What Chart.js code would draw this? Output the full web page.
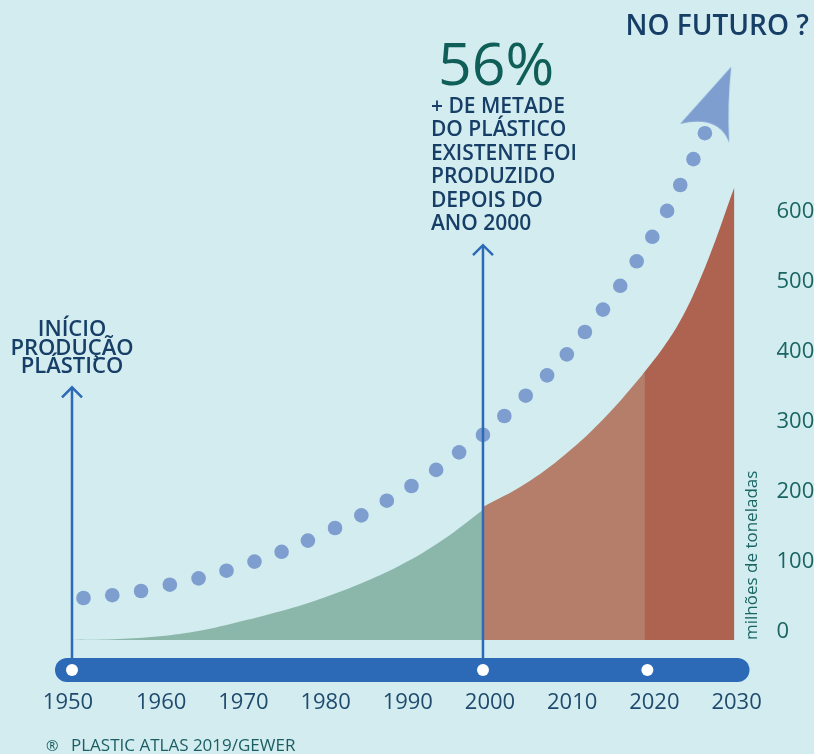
<!DOCTYPE html>
<html>
<head>
<meta charset="utf-8">
<script src="https://cdn.jsdelivr.net/npm/chart.js@4.4.1/dist/chart.umd.min.js"></script>
<style>
  html, body { margin: 0; padding: 0; background: #d2ecef; }
  #wrap { width: 814px; height: 754px; position: relative; }
</style>
</head>
<body>
<div id="wrap"><canvas id="myChart"></canvas></div>
<script>
// produção anual (milhões de toneladas)
const greenYears = [1950, 1955, 1960, 1965, 1970, 1975, 1980, 1985, 1990, 1995, 2000]
const greenValues = [0, 1, 4.5, 12, 25, 40, 58, 80, 107, 142, 186]
const brownYears = [2000, 2005, 2010, 2015, 2019.7]
const brownValues = [190, 222, 265, 320, 383]
// começa um pouco antes, por baixo da faixa marrom, para não deixar fresta
const darkYears = [2019.4, 2022, 2024, 2026, 2028, 2030, 2030.6]
const darkValues = [379, 419, 456, 504, 562, 628, 647]

// linha pontilhada (tendência)
const dotYears = [1951.4, 1954.9, 1958.4, 1961.9, 1965.4, 1968.8, 1972.2, 1975.5, 1978.7, 1982.0,
  1985.2, 1988.3, 1991.3, 1994.3, 1997.1, 2000.0, 2002.6, 2005.2, 2007.8, 2010.2,
  2012.4, 2014.6, 2016.7, 2018.7, 2020.6, 2022.4, 2024.0, 2025.6, 2027.0]
const dotValues = [60, 64, 70, 79, 88, 99, 112, 126, 142, 160,
  178, 199, 220, 243, 268, 293, 320, 349, 378, 408,
  440, 472, 506, 541, 576, 613, 650, 687, 724]
const arrowYear = [2028.0]
const arrowValue = [756]

const xTicks = [1950, 1960, 1970, 1980, 1990, 2000, 2010, 2020, 2030]
const yTicks = [0, 100, 200, 300, 400, 500, 600]
const timelineDots = [1950, 2000, 2020]
const markerYears = [1950, 2000]
const markerTops = [361, 564]

const NAVY = '#163e66'
const TEAL = '#1a6563'
const BLUE = '#2c6ab7'

function toPoints(xs, ys) {
  return xs.map((v, i) => ({x: v, y: ys[i]}))
}

function makeArrowHead() {
  const c = document.createElement('canvas')
  c.width = 90
  c.height = 100
  const g = c.getContext('2d')
  g.translate(45, 50)
  g.fillStyle = '#7e9ed0'
  g.beginPath()
  g.moveTo(18, -44)
  g.lineTo(-33, 13)
  g.quadraticCurveTo(6, 4, 16, 32)
  g.quadraticCurveTo(14, -6, 18, -44)
  g.closePath()
  g.fill()
  return c
}

const areaStyle = {
  fill: 'origin',
  pointRadius: 0,
  borderWidth: 0,
  tension: 0.4
}

const annotations = {
  id: 'annotations',
  afterDatasetsDraw(chart) {
    const {ctx, chartArea, scales} = chart
    const x = scales.x, y = scales.y
    ctx.save()

    // barra da linha do tempo
    const barY = chartArea.bottom + 30
    const barL = x.getPixelForValue(1950) - 17
    const barR = chartArea.right + 15
    ctx.fillStyle = BLUE
    ctx.beginPath()
    ctx.roundRect(barL, barY - 12, barR - barL, 24, 12)
    ctx.fill()

    // setas verticais
    ctx.strokeStyle = BLUE
    ctx.lineWidth = 2.5
    markerYears.forEach((yr, i) => {
      const px = x.getPixelForValue(yr)
      const top = y.getPixelForValue(markerTops[i])
      ctx.beginPath()
      ctx.moveTo(px, barY)
      ctx.lineTo(px, top)
      ctx.stroke()
      ctx.beginPath()
      ctx.moveTo(px - 10, top + 10)
      ctx.lineTo(px, top)
      ctx.lineTo(px + 10, top + 10)
      ctx.stroke()
    })

    ctx.fillStyle = '#ffffff'
    timelineDots.forEach(yr => {
      ctx.beginPath()
      ctx.arc(x.getPixelForValue(yr), barY, 6, 0, Math.PI * 2)
      ctx.fill()
    })

    // textos
    ctx.fillStyle = NAVY
    ctx.textAlign = 'center'
    ctx.textBaseline = 'alphabetic'
    ctx.font = "600 22px 'Open Sans'"
    const x50 = x.getPixelForValue(1950)
    ;['INÍCIO', 'PRODUÇÃO', 'PLÁSTICO'].forEach((t, i) => {
      ctx.fillText(t, x50, 336 + i * 18.5)
    })

    const x00 = x.getPixelForValue(2000) - 52
    ctx.textAlign = 'left'
    ctx.fillStyle = '#0f5e58'
    ctx.font = "400 59px 'Open Sans'"
    ctx.fillText('56%', x00 + 7, 85)
    ctx.fillStyle = NAVY
    ctx.font = "600 21px 'Open Sans'"
    ;['+ DE METADE', 'DO PLÁSTICO', 'EXISTENTE FOI', 'PRODUZIDO', 'DEPOIS DO', 'ANO 2000'].forEach((t, i) => {
      ctx.fillText(t, x00, 113 + i * 23.4)
    })

    ctx.textAlign = 'right'
    ctx.font = "600 28px 'Open Sans'"
    ctx.fillText('NO FUTURO ?', 809, 35)

    ctx.textAlign = 'left'
    ctx.fillStyle = '#1a5e63'
    ctx.font = "400 15px 'Open Sans'"
    ctx.fillText('®', 46, 751)
    ctx.font = "400 17px 'Open Sans'"
    ctx.fillText('PLASTIC ATLAS 2019/GEWER', 71, 751)

    // título do eixo y
    ctx.save()
    ctx.translate(chartArea.right + 17.5, chartArea.bottom)
    ctx.rotate(-Math.PI / 2)
    ctx.fillStyle = TEAL
    ctx.textAlign = 'left'
    ctx.textBaseline = 'middle'
    ctx.font = "400 17px 'Open Sans'"
    ctx.fillText('milhões de toneladas', 0, 0)
    ctx.restore()

    ctx.restore()
  }
}

Chart.defaults.font.family = "'Open Sans', sans-serif"

const data = {
  datasets: [
    Object.assign({data: toPoints(greenYears, greenValues), backgroundColor: '#8ab7aa'}, areaStyle),
    Object.assign({data: toPoints(brownYears, brownValues), backgroundColor: '#b47e6a'}, areaStyle),
    Object.assign({data: toPoints(darkYears, darkValues), backgroundColor: '#ad6350'}, areaStyle),
    {
      data: toPoints(dotYears, dotValues),
      showLine: false,
      pointRadius: 7.3,
      pointBorderWidth: 0,
      pointBackgroundColor: '#7e9ed0'
    },
    {
      data: toPoints(arrowYear, arrowValue),
      showLine: false,
      pointStyle: makeArrowHead(),
      clip: false
    }
  ]
}

const config = {
  type: 'line',
  data: data,
  options: {
    responsive: true,
    maintainAspectRatio: false,
    animation: false,
    layout: {padding: {left: 72, right: 0, top: 38, bottom: 40}},
    plugins: {
      legend: {display: false},
      tooltip: {enabled: false}
    },
    scales: {
      x: {
        type: 'linear',
        min: 1950,
        max: 2030.6,
        grid: {display: false},
        border: {display: false},
        afterBuildTicks: s => { s.ticks = xTicks.map(v => ({value: v})) },
        afterFit: s => { s.height = 74; s.paddingLeft = 0; s.paddingRight = 0 },
        ticks: {
          color: '#1f4a6e',
          font: {size: 22},
          padding: 42,
          labelOffset: 7,
          maxRotation: 0,
          // o rótulo de 1950 fica mais à esquerda no original
          callback: v => v === 1950 ? '1950\u2003' : String(v)
        }
      },
      y: {
        position: 'right',
        min: 0,
        max: 860,
        grid: {display: false},
        border: {display: false},
        afterBuildTicks: s => { s.ticks = yTicks.map(v => ({value: v})) },
        afterFit: s => { s.width = 79.5; s.paddingTop = 0; s.paddingBottom = 0 },
        ticks: {
          color: TEAL,
          font: {size: 22},
          padding: 34,
          labelOffset: -8,
          callback: v => String(v)
        }
      }
    }
  },
  plugins: [annotations]
}

const myChart = new Chart(document.getElementById('myChart'), config)
</script>
</body>
</html>
